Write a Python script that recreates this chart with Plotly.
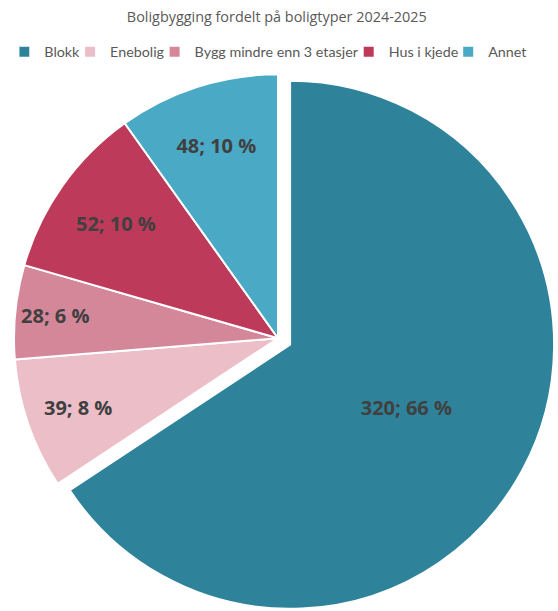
import plotly.graph_objects as go

# Data
categories = ["Blokk", "Enebolig", "Bygg mindre enn 3 etasjer", "Hus i kjede", "Annet"]
values = [320, 39, 28, 52, 48]
percent_labels = ["66 %", "8 %", "6 %", "10 %", "10 %"]
colors = ["#2E839A", "#ECBEC8", "#D5879A", "#BE3A5A", "#4AA9C4"]
pulls = [0.052, 0, 0, 0, 0]

FIG_H = 616  # a few px taller than the window; the bottom of the pulled slice is cropped like in the original

fig = go.Figure()

fig.add_trace(
    go.Pie(
        labels=categories,
        values=values,
        customdata=percent_labels,
        texttemplate="%{value}; %{customdata}",
        textposition="inside",
        insidetextorientation="horizontal",
        textfont=dict(family="Open Sans", size=20, color="#404040", weight="bold"),
        marker=dict(colors=colors, line=dict(color="white", width=2)),
        pull=pulls,
        sort=False,
        direction="clockwise",
        rotation=0,
        domain=dict(x=[0, 1], y=[0, (FIG_H - 60.5) / FIG_H]),
        hoverinfo="label+value",
    )
)

fig.update_layout(
    width=558,
    height=FIG_H,
    margin=dict(l=0, r=2, t=0, b=0, autoexpand=False),
    paper_bgcolor="white",
    title=dict(
        text="Boligbygging fordelt på boligtyper 2024-2025",
        x=0.496,
        xanchor="center",
        y=1 - 17 / FIG_H,
        yanchor="middle",
        font=dict(family="Open Sans", size=14.4, color="#595959"),
    ),
    legend=dict(
        orientation="h",
        x=0.496,
        xanchor="center",
        y=1 - 52 / FIG_H,
        yanchor="middle",
        font=dict(family="Lato", size=14.3, color="#595959"),
        itemwidth=30,
        indentation=-15,
        traceorder="normal",
    ),
)

# drop the browser's default body margin so the figure sits at the page corner
fig.write_html(
    "out.html",
    config={"displayModeBar": False},
    post_script="document.body.style.margin = '0px'; document.body.style.overflow = 'hidden';",
)
